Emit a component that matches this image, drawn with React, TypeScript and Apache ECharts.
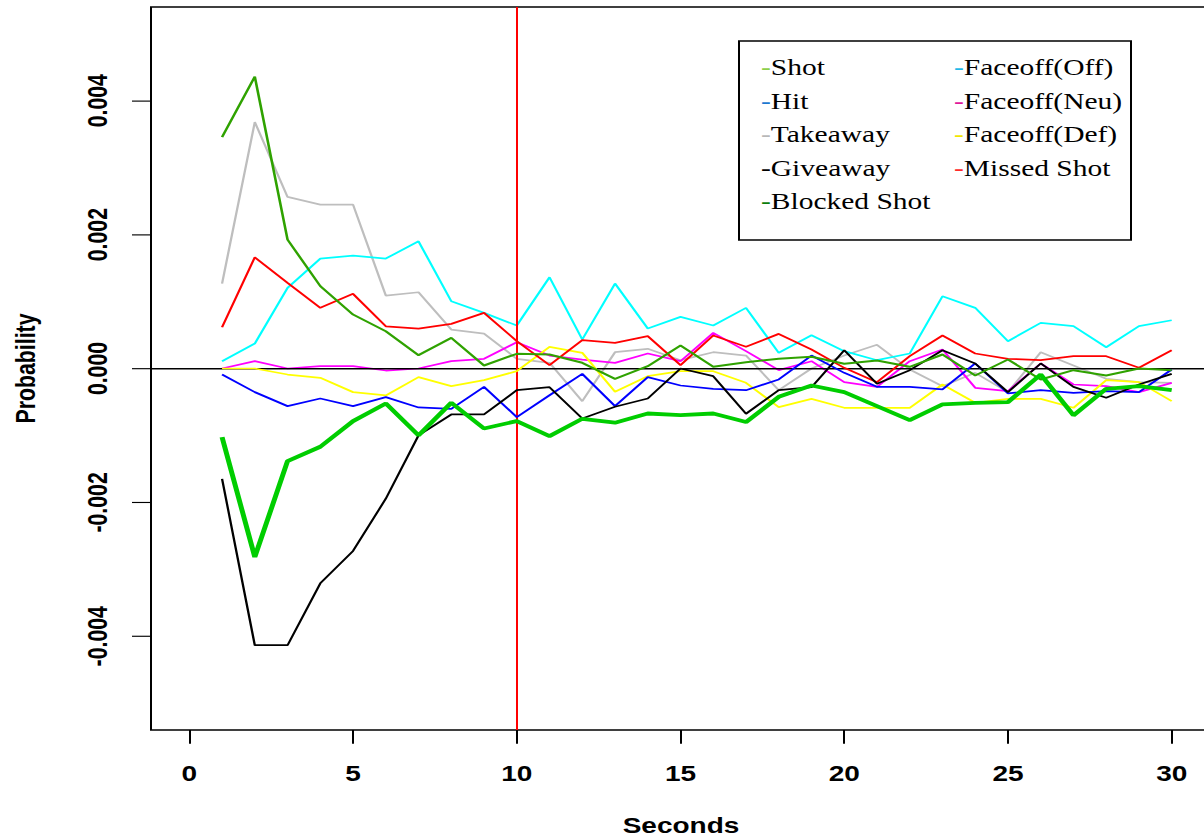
import React, { useEffect, useRef } from "react";
import * as echarts from "echarts";

// ---- data ----
const seconds = [1,2,3,4,5,6,7,8,9,10,11,12,13,14,15,16,17,18,19,20,21,22,23,24,25,26,27,28,29,30];

const shot = [-0.001025,-0.002816,-0.001383,-0.001169,-0.000786,-0.000522,-0.001,-0.000512,-0.000896,-0.000786,-0.00101,-0.000751,-0.00081,-0.000672,-0.000697,-0.000672,-0.0008,-0.000423,-0.000254,-0.000353,-0.000562,-0.000771,-0.000537,-0.000512,-0.000502,-0.00009,-0.0007,-0.000303,-0.000264,-0.000324];
const hit = [-0.00009,-0.000353,-0.000562,-0.000448,-0.000562,-0.000428,-0.000582,-0.000602,-0.000274,-0.000726,-0.0004,-0.00008,-0.000562,-0.000129,-0.000254,-0.000303,-0.000324,-0.000164,0.000194,-0.000065,-0.000274,-0.000274,-0.000313,0.000075,-0.000373,-0.000324,-0.000363,-0.000338,-0.000353,-0.000015];
const takeaway = [0.001269,0.00368,0.002563,0.002448,0.002448,0.00109,0.001139,0.000582,0.000522,0.000145,0.000085,-0.000488,0.000243,0.000294,0.000124,0.000243,0.000194,-0.000324,0,0.000194,0.000354,-0.000015,-0.000264,-0.000065,-0.000353,0.000243,0.000045,-0.000154,-0.000204,-0.000214];
const giveaway = [-0.001647,-0.004134,-0.004134,-0.003209,-0.002726,-0.001945,-0.001,-0.000687,-0.000687,-0.000324,-0.000279,-0.000746,-0.000572,-0.000448,0,-0.000115,-0.000676,-0.000324,-0.000279,0.000273,-0.000229,-0.000025,0.000273,0.000075,-0.000353,0.000075,-0.000274,-0.000438,-0.000239,-0.00008];
const blockedShot = [0.003458,0.00436,0.001925,0.00123,0.000806,0.000557,0.000199,0.000458,0.000045,0.00022,0.00021,0.000085,-0.000154,0.000035,0.000343,0.000025,0.000094,0.000145,0.000175,0.00007,0.00012,0.000025,0.000209,-0.000104,0.000134,-0.000164,-0.000025,-0.000104,0,-0.000025];
const faceoffOff = [0.000109,0.000373,0.001204,0.001642,0.001687,0.001642,0.0019,0.001005,0.000831,0.000642,0.001363,0.000433,0.001269,0.000597,0.000771,0.000642,0.000906,0.000234,0.000497,0.000259,0.000124,0.000224,0.001079,0.000906,0.000408,0.000682,0.000632,0.000318,0.000632,0.000721];
const faceoffNeu = [0,0.000109,0,0.000035,0.000035,-0.00003,0,0.000109,0.000145,0.000393,0.000194,0.000134,0.000085,0.000224,0.000109,0.000532,0.000259,-0.000025,0.000109,-0.000204,-0.000274,0.000109,0.000284,-0.000288,-0.000338,0.000075,-0.000239,-0.000264,-0.000353,-0.000214];
const faceoffDef = [0,0,-0.00009,-0.000139,-0.000353,-0.000403,-0.000129,-0.000264,-0.000174,-0.00004,0.000324,0.000234,-0.000348,-0.000115,-0.00004,-0.00004,-0.000214,-0.000577,-0.000453,-0.000587,-0.000587,-0.000587,-0.000239,-0.000512,-0.000453,-0.000453,-0.000587,-0.000174,-0.000204,-0.000488];
const missedShot = [0.000616,0.001661,0.00128,0.000906,0.001115,0.000631,0.000597,0.000667,0.000831,0.00041,0.00005,0.000423,0.000383,0.000483,0.00005,0.000493,0.000324,0.000517,0.000284,0.00001,-0.000204,0.000184,0.000493,0.000224,0.000145,0.000124,0.000184,0.000184,0.00001,0.000273];

const xTicks = [0, 5, 10, 15, 20, 25, 30];
const yTicks = [-0.004, -0.002, 0, 0.002, 0.004];

const legendNames = ["Shot","Hit","Takeaway","Giveaway","Blocked Shot","Faceoff(Off)","Faceoff(Neu)","Faceoff(Def)","Missed Shot"];
const legendColors = ["#8ccf4a","#1c78d0","#b8b8b8","#000000","#0b7d0b","#1fb8e8","#e0189a","#f2e600","#ff2a2a"];

// drawing order (bottom -> top)
const plotSeries = [
  { name: "Takeaway", data: takeaway, color: "#BEBEBE", width: 2.3 },
  { name: "Faceoff(Off)", data: faceoffOff, color: "#00FFFF", width: 2.3 },
  { name: "Faceoff(Neu)", data: faceoffNeu, color: "#FF00FF", width: 2.3 },
  { name: "Faceoff(Def)", data: faceoffDef, color: "#FFFF00", width: 2.3 },
  { name: "Missed Shot", data: missedShot, color: "#FF0000", width: 2.3 },
  { name: "Hit", data: hit, color: "#0000FF", width: 2.3 },
  { name: "Giveaway", data: giveaway, color: "#000000", width: 2.3 },
  { name: "Blocked Shot", data: blockedShot, color: "#2FA200", width: 2.6 },
  { name: "Shot", data: shot, color: "#00CD00", width: 5 },
];

const W = 1204;
const H = 1105;
const S = 840 / H; // vertical squash of the original picture

export default function App() {
  const ref = useRef<HTMLDivElement>(null);
  useEffect(() => {
    const chart = echarts.init(ref.current!, null, { renderer: "svg" });
    const sans = "'Liberation Sans', Arial, sans-serif";
    const serif = "'Liberation Serif', 'Times New Roman', serif";
    const gridTop = 7 / S;
    const gridBottom = 730 / S;

    const legendItems = legendNames.map((name, i) => {
      const col = Math.floor(i / 5);
      const row = i % 5;
      return {
        type: "text",
        x: col === 0 ? 761 : 954,
        y: (68 + 33.5 * row) / S,
        style: {
          text: `{m|-}{t|${name}}`,
          fontFamily: serif,
          fontSize: 29.5,
          verticalAlign: "middle",
          rich: {
            m: { fill: legendColors[i], fontFamily: serif, fontSize: 29.5 },
            t: { fill: "#000", fontFamily: serif, fontSize: 29.5 },
          },
        },
        silent: true,
      };
    });

    const option: any = {
      animation: false,
      backgroundColor: "#fff",
      grid: {
        left: 151,
        top: gridTop,
        width: 1060,
        height: gridBottom - gridTop,
        show: true,
        borderColor: "#000",
        borderWidth: 2,
        backgroundColor: "transparent",
        containLabel: false,
        outerBoundsMode: "none",
      },
      xAxis: {
        type: "value",
        min: -1.17,
        max: 31.2,
        name: "Seconds",
        nameLocation: "middle",
        nameGap: 112,
        nameTextStyle: { fontFamily: sans, fontWeight: "bold", fontSize: 28, color: "#000" },
        axisLine: { show: false, onZero: false },
        splitLine: { show: false },
        axisTick: { show: true, customValues: xTicks, length: 18, lineStyle: { color: "#000", width: 2 } },
        axisLabel: { customValues: xTicks, margin: 43, fontFamily: sans, fontWeight: "bold", fontSize: 28, color: "#000" },
      },
      yAxis: {
        type: "value",
        min: -0.0054,
        max: 0.0054,
        name: "Probability",
        nameLocation: "middle",
        nameRotate: 90,
        nameGap: 112,
        nameTextStyle: { fontFamily: sans, fontWeight: "bold", fontSize: 28, color: "#000" },
        axisLine: { show: false, onZero: false },
        splitLine: { show: false },
        axisTick: { show: true, customValues: yTicks, length: 19, lineStyle: { color: "#000", width: 1.5 } },
        axisLabel: {
          customValues: yTicks,
          rotate: 90,
          margin: 40,
          fontFamily: sans,
          fontWeight: "bold",
          fontSize: 28,
          color: "#000",
          formatter: (v: number) => v.toFixed(3),
        },
      },
      series: [
        ...plotSeries.map((s, i) => ({
          name: s.name,
          type: "line",
          data: seconds.map((x, j) => [x, s.data[j]]),
          showSymbol: false,
          symbol: "none",
          z: 2 + i,
          lineStyle: { color: s.color, width: s.width },
          itemStyle: { color: s.color },
          silent: true,
        })),
        {
          name: "ref",
          type: "line",
          data: [],
          z: 20,
          silent: true,
          markLine: {
            silent: true,
            symbol: "none",
            label: { show: false },
            animation: false,
            data: [
              { yAxis: 0, lineStyle: { color: "#000", width: 2, type: "solid" } },
              { xAxis: 10, lineStyle: { color: "#FF0000", width: 2, type: "solid" } },
            ],
          },
        },
      ],
      graphic: [
        {
          type: "rect",
          shape: { x: 739, y: 41 / S, width: 392, height: (240 - 41) / S },
          style: { fill: "#fff", stroke: "#000", lineWidth: 2 },
          z: 50,
          silent: true,
        },
        ...legendItems.map((it) => ({ ...it, z: 51 })),
      ],
    };
    chart.setOption(option);
    return () => chart.dispose();
  }, []);

  return (
    <div style={{ position: "fixed", left: 0, top: 0, width: W, height: 840, overflow: "hidden", background: "#fff" }}>
      <div style={{ width: W, height: H, transform: `scaleY(${S})`, transformOrigin: "0 0" }}>
        <div ref={ref} style={{ width: W, height: H }} />
      </div>
    </div>
  );
}
